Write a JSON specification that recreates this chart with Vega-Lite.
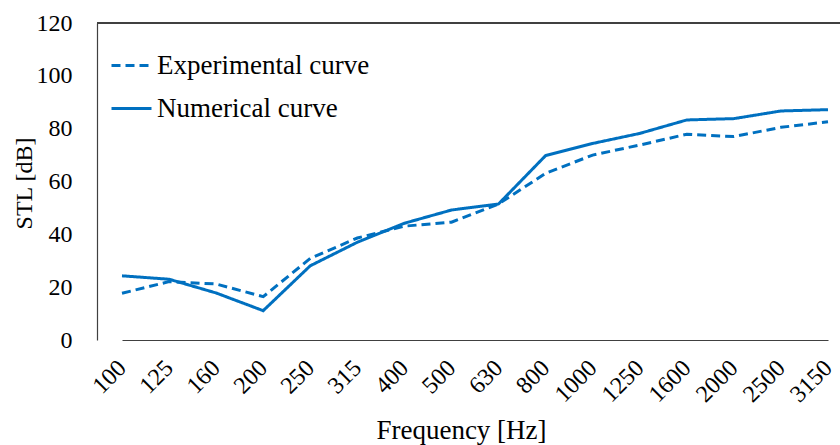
{
  "$schema": "https://vega.github.io/schema/vega-lite/v6.json",
  "width": 743,
  "height": 317,
  "autosize": "none",
  "padding": {"left": 97, "top": 23, "right": 0, "bottom": 105},
  "background": "white",
  "config": {"view": {"stroke": null}, "font": "Liberation Serif"},
  "data": {"values": [
    {"freq": "100", "series": "Experimental curve", "stl": 17.7},
    {"freq": "125", "series": "Experimental curve", "stl": 22.1},
    {"freq": "160", "series": "Experimental curve", "stl": 21.2},
    {"freq": "200", "series": "Experimental curve", "stl": 16.4},
    {"freq": "250", "series": "Experimental curve", "stl": 30.9},
    {"freq": "315", "series": "Experimental curve", "stl": 38.6},
    {"freq": "400", "series": "Experimental curve", "stl": 43.1},
    {"freq": "500", "series": "Experimental curve", "stl": 44.6},
    {"freq": "630", "series": "Experimental curve", "stl": 51.5},
    {"freq": "800", "series": "Experimental curve", "stl": 63.1},
    {"freq": "1000", "series": "Experimental curve", "stl": 70.0},
    {"freq": "1250", "series": "Experimental curve", "stl": 73.8},
    {"freq": "1600", "series": "Experimental curve", "stl": 77.9},
    {"freq": "2000", "series": "Experimental curve", "stl": 77.0},
    {"freq": "2500", "series": "Experimental curve", "stl": 80.5},
    {"freq": "3150", "series": "Experimental curve", "stl": 82.6},
    {"freq": "100", "series": "Numerical curve", "stl": 24.3},
    {"freq": "125", "series": "Numerical curve", "stl": 23.0},
    {"freq": "160", "series": "Numerical curve", "stl": 17.8},
    {"freq": "200", "series": "Numerical curve", "stl": 11.1},
    {"freq": "250", "series": "Numerical curve", "stl": 28.1},
    {"freq": "315", "series": "Numerical curve", "stl": 37.0},
    {"freq": "400", "series": "Numerical curve", "stl": 44.2},
    {"freq": "500", "series": "Numerical curve", "stl": 49.2},
    {"freq": "630", "series": "Numerical curve", "stl": 51.5},
    {"freq": "800", "series": "Numerical curve", "stl": 69.8},
    {"freq": "1000", "series": "Numerical curve", "stl": 74.4},
    {"freq": "1250", "series": "Numerical curve", "stl": 78.2},
    {"freq": "1600", "series": "Numerical curve", "stl": 83.3},
    {"freq": "2000", "series": "Numerical curve", "stl": 83.8},
    {"freq": "2500", "series": "Numerical curve", "stl": 86.7},
    {"freq": "3150", "series": "Numerical curve", "stl": 87.2}
  ]},
  "layer": [
    {
      "mark": {"type": "rule", "color": "#404040", "strokeWidth": 1.2},
      "encoding": {"y": {"datum": 120}}
    },
    {
      "mark": {"type": "line", "strokeWidth": 3, "color": "#0070C0"},
      "encoding": {
        "x": {
          "field": "freq", "type": "ordinal", "sort": null,
          "scale": {"type": "point", "range": [25, 731], "padding": 0},
          "axis": {
            "title": "Frequency [Hz]",
            "labelAngle": -45, "labelAlign": "right", "labelBaseline": "middle",
            "labelFont": "Liberation Serif", "titleFont": "Liberation Serif",
            "labelFontSize": 24, "labelColor": "black", "labelPadding": 24,
            "labelOverlap": false, "labelBound": false,
            "ticks": false, "grid": false,
            "domainColor": "#404040", "domainWidth": 1.2,
            "titleFontSize": 27, "titleFontWeight": "normal", "titleColor": "black",
            "titleX": 364, "titleY": 98, "titleBaseline": "alphabetic"
          }
        },
        "y": {
          "field": "stl", "type": "quantitative",
          "scale": {"domain": [0, 120]},
          "axis": {
            "title": "STL [dB]",
            "values": [0, 20, 40, 60, 80, 100, 120],
            "labelFont": "Liberation Serif", "titleFont": "Liberation Serif",
            "labelFontSize": 24, "labelColor": "black", "labelPadding": 25,
            "ticks": false, "grid": false,
            "domainColor": "#404040", "domainWidth": 1.2,
            "titleFontSize": 24, "titleFontWeight": "normal", "titleColor": "black",
            "titleX": -66, "titleY": 160, "titleBaseline": "alphabetic"
          }
        },
        "strokeDash": {
          "field": "series", "type": "nominal",
          "scale": {"domain": ["Experimental curve", "Numerical curve"], "range": [[9, 5], [1, 0]]},
          "legend": {
            "title": null, "orient": "none", "legendX": 13, "legendY": 21,
            "padding": 0, "symbolType": "stroke", "symbolSize": 1600,
            "symbolStrokeWidth": 3, "symbolStrokeColor": "#0070C0",
            "labelFont": "Liberation Serif", "labelLimit": 400,
            "labelFontSize": 27, "labelColor": "black", "labelOffset": 4,
            "rowPadding": 8
          }
        }
      }
    }
  ]
}
